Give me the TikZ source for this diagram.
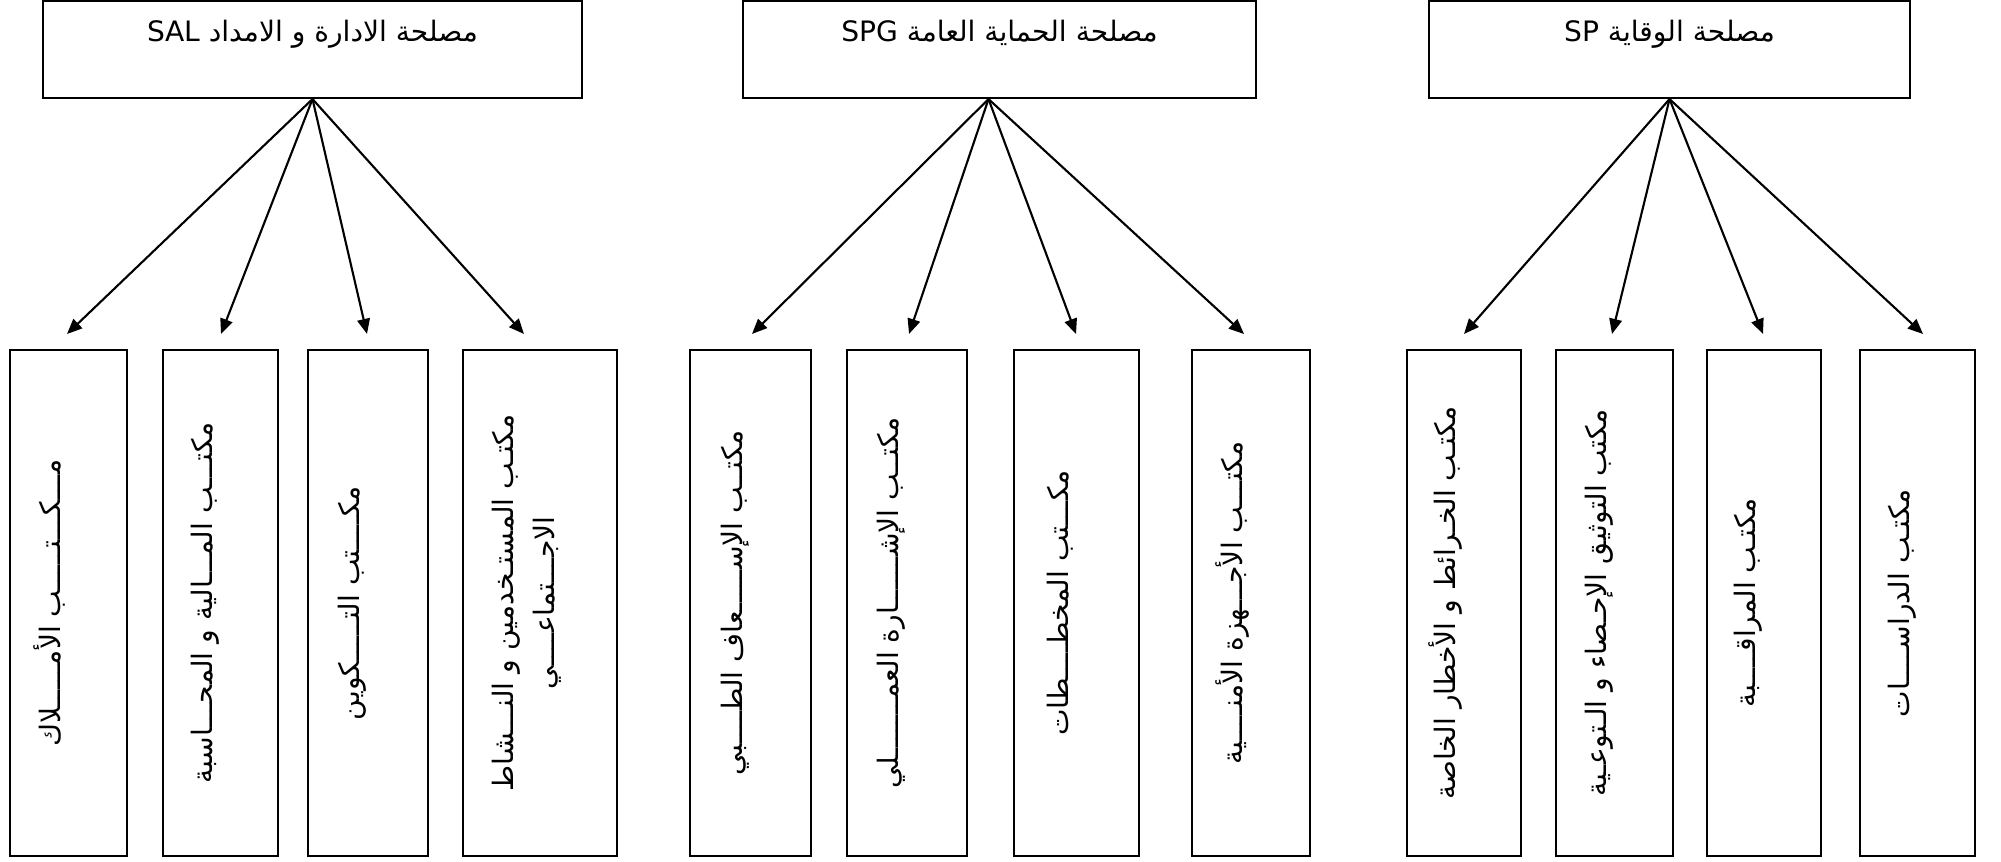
\documentclass[tikz,border=0pt]{standalone}
\usepackage{fontspec}
\usepackage{graphicx}
\usetikzlibrary{arrows.meta,positioning}
\newfontfamily\arabicfont[Script=Arabic]{DejaVu Sans}
\TeXXeTstate=1
\newcommand{\artext}[1]{{\arabicfont\beginR #1\endR}}
\newcommand{\vlab}[1]{\rotatebox{90}{\raisebox{2.3pt}[0pt][0pt]{\artext{#1}}}}

\begin{document}
\begin{tikzpicture}[
    x=0.01cm,y=-0.01cm,
    topbox/.style={rectangle,draw,line width=0.6pt,inner sep=0pt,
                   text height=0.41cm,text depth=0.56cm,font=\fontsize{8}{10}\selectfont},
    officebox/.style={rectangle,draw,line width=0.6pt,inner sep=0pt,minimum height=5.06cm,
                      font=\fontsize{8}{11.7}\selectfont},
    arr/.style={-{Triangle[length=4.3pt,width=3.6pt]},line width=0.6pt}
]
\useasboundingbox (0,0) rectangle (2001,861);
% Services
\node[topbox,minimum width=5.39cm] (sal) at (312.5,49.5)
    {\artext{مصلحة الادارة و الامداد \beginL SAL\endL}};
\node[topbox,minimum width=5.13cm] (spg) at (999.5,49.5)
    {\artext{مصلحة الحماية العامة \beginL SPG\endL}};
\node[topbox,minimum width=4.81cm] (sp) at (1669.5,49.5)
    {\artext{مصلحة الوقاية \beginL SP\endL}};

% Offices of SAL
\node[officebox,minimum width=1.17cm] (b1) at (68.5,603) {\vlab{مـــكـــتـــــب الأمـــــلاك}};
\node[officebox,minimum width=1.15cm] (b2) at (220.5,603) {\vlab{مكتـــب المـــالية و المحـــاسبة}};
\node[officebox,minimum width=1.20cm] (b3) at (368,603) {\vlab{مكــــتب التـــــكوين}};
\node[officebox,minimum width=1.54cm] (b4) at (540,603)
    {\rotatebox{90}{\raisebox{2.1pt}[0pt][0pt]{\begin{tabular}{@{}c@{}}
      \artext{مكتـب المستـخدمين و النـــشاط}\\ \artext{الاجـــتماعــــي}\end{tabular}}}};
% Offices of SPG
\node[officebox,minimum width=1.21cm] (b5) at (750.5,603) {\vlab{مكتــب الإســـــعاف الطــــبي}};
\node[officebox,minimum width=1.20cm] (b6) at (907,603) {\vlab{مكتــب الإشــــــارة العمـــــــلي}};
\node[officebox,minimum width=1.25cm] (b7) at (1076.5,603) {\vlab{مكـــتب المخطــــطات}};
\node[officebox,minimum width=1.18cm] (b8) at (1251,603) {\vlab{مكتـــب الأجـــهزة الأمنــــية}};
% Offices of SP
\node[officebox,minimum width=1.14cm] (b9) at (1464,603) {\vlab{مكتـب الخـرائط و الأخطار الخاصة}};
\node[officebox,minimum width=1.17cm] (b10) at (1614.5,603) {\vlab{مكتب التوثيق الإحـصاء و الـتوعـية}};
\node[officebox,minimum width=1.14cm] (b11) at (1764,603) {\vlab{مكتـب المراقــــبة}};
\node[officebox,minimum width=1.15cm] (b12) at (1917.5,603) {\vlab{مكتـب الدراســــات}};

% arrow ends
\coordinate (t1) at (67,334);
\coordinate (t2) at (221,334);
\coordinate (t3) at (367,334);
\coordinate (t4) at (524,334);
\coordinate (t5) at (752,334);
\coordinate (t6) at (909,334);
\coordinate (t7) at (1076,334);
\coordinate (t8) at (1244,334);
\coordinate (t9) at (1464,334);
\coordinate (t10) at (1612,334);
\coordinate (t11) at (1763,334);
\coordinate (t12) at (1923,334);
\coordinate (spgout) at ([xshift=-0.11cm]spg.south);

\draw[arr] (sal.south) -- (t1);
\draw[arr] (sal.south) -- (t2);
\draw[arr] (sal.south) -- (t3);
\draw[arr] (sal.south) -- (t4);
\draw[arr] (spgout) -- (t5);
\draw[arr] (spgout) -- (t6);
\draw[arr] (spgout) -- (t7);
\draw[arr] (spgout) -- (t8);
\draw[arr] (sp.south) -- (t9);
\draw[arr] (sp.south) -- (t10);
\draw[arr] (sp.south) -- (t11);
\draw[arr] (sp.south) -- (t12);
\end{tikzpicture}
\end{document}
